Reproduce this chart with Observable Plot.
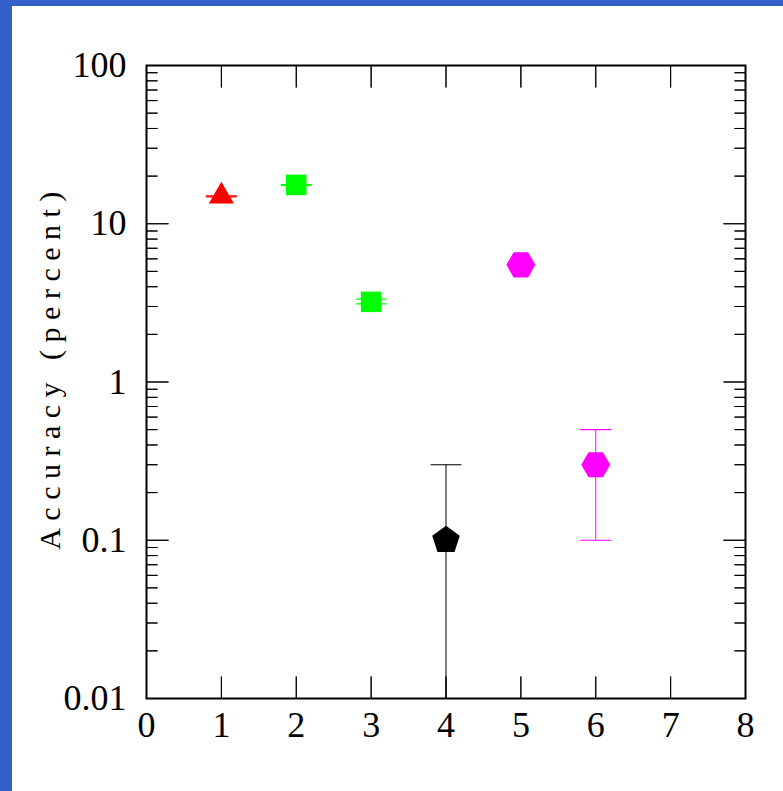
<!DOCTYPE html>
<html>
<head>
<meta charset="utf-8">
<script src="https://cdn.jsdelivr.net/npm/d3@7"></script>
<script src="https://cdn.jsdelivr.net/npm/@observablehq/plot@0.6"></script>
<style>
  html, body { margin: 0; padding: 0; }
  body { background: #325fc8; width: 783px; height: 791px; overflow: hidden; position: relative; }
  #chart { position: absolute; left: 12px; top: 6px; width: 771px; height: 785px; background: #ffffff; }
  #chart svg { display: block; }
</style>
</head>
<body>
<div id="chart"></div>
<script>
// ---- data ----
const xs     = [1, 2, 3, 4, 5, 6];
const values = [14.9, 17.6, 3.21, 0.1, 5.5, 0.3];
const errLo  = [14.8, 17.5, 3.12, 0.001, null, 0.1];
const errHi  = [15.0, 17.7, 3.34, 0.3, null, 0.5];
const colors = ["#ff0000", "#00ff00", "#00ff00", "#000000", "#ff00ff", "#ff00ff"];
const shapes = ["triangle", "square", "square", "pentagon", "hexagon", "hexagon"];

const xTicks = [0, 1, 2, 3, 4, 5, 6, 7, 8];
const yTicks = [0.01, 0.1, 1, 10, 100];
const yMinorTicks = [
  0.02, 0.03, 0.04, 0.05, 0.06, 0.07, 0.08, 0.09,
  0.2, 0.3, 0.4, 0.5, 0.6, 0.7, 0.8, 0.9,
  2, 3, 4, 5, 6, 7, 8, 9,
  20, 30, 40, 50, 60, 70, 80, 90
];
const yLabel = "Accuracy (percent)";

// ---- build table ----
const points = xs.map((x, i) => ({x, y: values[i], lo: errLo[i], hi: errHi[i], color: colors[i], shape: shapes[i]}));
const bars = points.filter(d => d.lo != null);
const caps = bars.flatMap(d => [{x: d.x, y: d.lo, color: d.color}, {x: d.x, y: d.hi, color: d.color}]);

// ---- custom polygon symbols (circumradius from size) ----
function polygon(n, startDeg) {
  return {
    draw(context, size) {
      const R = Math.sqrt(size / Math.PI);
      for (let k = 0; k < n; ++k) {
        const a = (startDeg + k * 360 / n) * Math.PI / 180;
        const px = R * Math.cos(a), py = R * Math.sin(a);
        if (k === 0) context.moveTo(px, py); else context.lineTo(px, py);
      }
      context.closePath();
    }
  };
}
const symbols = {
  triangle: polygon(3, -90),
  square: polygon(4, -45),
  pentagon: polygon(5, -90),
  hexagon: polygon(6, 0)
};

const font = "'Liberation Serif', 'Times New Roman', serif";
const tickStyle = {shape: "spike", r: 0, stroke: "#000", fill: "none", strokeWidth: 1, anchor: "start"};

const shapeMarks = Object.keys(symbols).map(s =>
  Plot.dot(points.filter(d => d.shape === s), {
    x: "x", y: "y", r: 14.5, symbol: symbols[s], fill: "color", stroke: "none"
  })
);

const chart = Plot.plot({
  width: 771,
  height: 785,
  marginLeft: 134,
  marginRight: 38,
  marginTop: 59,
  marginBottom: 93,
  style: {fontFamily: font, fontSize: "36px", background: "#ffffff", color: "#000"},
  x: {domain: [0, 8]},
  y: {type: "log", domain: [0.01, 100]},
  color: {type: "identity"},
  marks: [
    // error bars
    Plot.ruleX(bars, {x: "x", y1: "lo", y2: "hi", stroke: "color", strokeWidth: 1, clip: true}),
    Plot.vector(caps, {x: "x", y: "y", length: 30, rotate: 90, anchor: "middle", shape: "spike", r: 0, stroke: "color", fill: "none", strokeWidth: 1.2, clip: true}),
    // points
    ...shapeMarks,
    // inward ticks: x bottom & top
    Plot.vector(xTicks, {...tickStyle, x: d => d, y: yTicks[0], length: 22, rotate: 0}),
    Plot.vector(xTicks, {...tickStyle, x: d => d, y: yTicks[yTicks.length - 1], length: 22, rotate: 180}),
    // y major ticks left & right
    Plot.vector(yTicks, {...tickStyle, y: d => d, x: xTicks[0], length: 22, rotate: 90}),
    Plot.vector(yTicks, {...tickStyle, y: d => d, x: xTicks[xTicks.length - 1], length: 22, rotate: 270}),
    // y minor ticks
    Plot.vector(yMinorTicks, {...tickStyle, y: d => d, x: xTicks[0], length: 11, rotate: 90}),
    Plot.vector(yMinorTicks, {...tickStyle, y: d => d, x: xTicks[xTicks.length - 1], length: 11, rotate: 270}),
    // frame
    Plot.frame({stroke: "#000", strokeWidth: 2}),
    // tick labels
    Plot.axisX(xTicks, {anchor: "bottom", tickSize: 0, tickPadding: 13, label: null, tickFormat: d => String(d), fontSize: 36, fontFamily: font}),
    Plot.axisY(yTicks, {anchor: "left", tickSize: 0, tickPadding: 20, label: null, tickFormat: d => String(d), fontSize: 36, fontFamily: font}),
    // y label
    Plot.text([yLabel], {frameAnchor: "left", textAnchor: "middle", dx: -96, dy: -15, rotate: -90, text: d => d, fontSize: 30, fontFamily: font, fill: "#000"})
  ]
});
d3.select(chart).selectAll("text")
  .filter(function() { return this.textContent === yLabel; })
  .style("letter-spacing", "7.5px");
document.getElementById("chart").appendChild(chart);
</script>
</body>
</html>
